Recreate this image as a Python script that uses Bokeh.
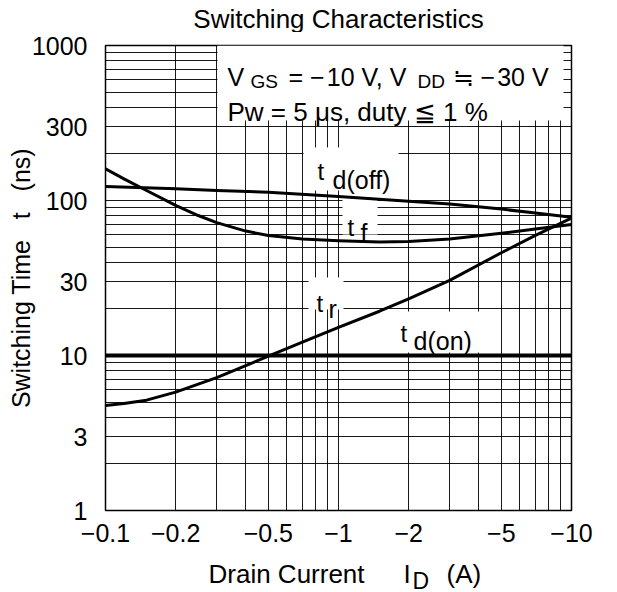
from bokeh.plotting import figure
from bokeh.layouts import column
from bokeh.models import FixedTicker, CustomJSTickFormatter, Label, Range1d
from bokeh.embed import file_html
from bokeh.resources import INLINE

# ---- data ----
x_tdoff = [0.1, 0.2, 0.3, 0.5, 1.0, 2.0, 3.0, 5.0, 7.0, 10.0]
y_tdoff = [123, 119, 116, 113, 106, 99, 95, 88, 83, 78]

x_tf = [0.1, 0.12, 0.15, 0.2, 0.25, 0.3, 0.4, 0.5, 0.7, 1.0, 1.5, 2.0, 3.0, 5.0, 7.0, 10.0]
y_tf = [160, 138, 116, 93, 80, 72, 63.5, 59.5, 56.5, 55, 54, 54.3, 56.5, 61.5, 65.5, 70]

x_tr = [0.1, 0.12, 0.15, 0.2, 0.3, 0.4, 0.5, 0.7, 1.0, 1.5, 2.0, 3.0, 5.0, 7.0, 10.0]
y_tr = [4.75, 4.9, 5.15, 5.8, 7.2, 8.6, 9.9, 12.2, 15.2, 19.3, 23.2, 30.5, 46, 59.5, 77]

x_tdon = [0.1, 10.0]
y_tdon = [10, 10]

x_ticks = [0.1, 0.2, 0.5, 1, 2, 5, 10]
y_ticks = [1, 3, 10, 30, 100, 300, 1000]
x_grid = [m * d for d in (0.1, 1.0) for m in range(1, 10)] + [10.0]
y_grid = [m * d for d in (1, 10, 100) for m in range(1, 10)] + [1000]

FONT = "Liberation Sans"
W = 617
TOP_H = 32          # title strip
BOT_H = 37          # x-axis title strip
MAIN_H = 592 - TOP_H - BOT_H
SHIFT = 9           # observed vertical offset of labels inside the strips

# frame geometry (global pixels) used to place annotations
FL, FR, FT, FB = 105, 571, 45, 510


def px2x(px):
    return 10 ** (-1 + 2 * (px - FL) / (FR - FL))


def px2y(py):
    return 10 ** (3 - 3 * (py - FT) / (FB - FT))


def strip(h):
    f = figure(width=W, height=h, x_range=Range1d(FL, FR), y_range=Range1d(0, h),
               x_axis_location=None, y_axis_location=None, title_location=None,
               output_backend="svg", toolbar_location=None,
               min_border_left=FL, min_border_right=W - FR,
               min_border_top=0, min_border_bottom=0)
    f.grid.visible = False
    f.outline_line_color = None
    f.background_fill_color = "white"
    f.border_fill_color = "white"
    return f


def put(fig, s, x, y, size, align="left"):
    fig.add_layout(Label(x=x, y=y, text=s, text_font=FONT,
                         text_font_size=f"{size}px", text_color="black",
                         text_align=align, text_baseline="alphabetic"))


# ---- title strip ----
top = strip(TOP_H)
put(top, "Switching Characteristics", 338, TOP_H - 27 + SHIFT, 26, "center")

# ---- main chart ----
p = figure(width=W, height=MAIN_H, x_axis_type="log", y_axis_type="log",
           x_range=(0.1, 10), y_range=(1, 1000), title_location=None,
           output_backend="svg", toolbar_location=None,
           min_border_left=FL, min_border_right=W - FR,
           min_border_top=FT - TOP_H, min_border_bottom=MAIN_H - (FB - TOP_H))
p.background_fill_color = "white"
p.border_fill_color = "white"
p.outline_line_color = "black"
p.outline_line_width = 1.5

p.xgrid.ticker = FixedTicker(ticks=x_grid)
p.ygrid.ticker = FixedTicker(ticks=y_grid)
for g in (p.xgrid, p.ygrid):
    g.grid_line_color = "black"
    g.grid_line_width = 1
    g.grid_line_alpha = 0.9

p.xaxis.ticker = FixedTicker(ticks=x_ticks, minor_ticks=[])
p.yaxis.ticker = FixedTicker(ticks=y_ticks, minor_ticks=[])
p.xaxis.formatter = CustomJSTickFormatter(code='return "\\u2212" + tick;')
p.yaxis.formatter = CustomJSTickFormatter(code='return tick.toString();')
for ax in (p.xaxis, p.yaxis):
    ax.axis_line_color = None
    ax.major_tick_line_color = None
    ax.minor_tick_line_color = None
    ax.major_label_text_font = FONT
    ax.major_label_text_font_size = "25px"
    ax.major_label_text_color = "black"
p.xaxis.major_label_standoff = 7
p.yaxis.major_label_standoff = 12
p.yaxis.axis_label = "Switching Time\u00a0\u00a0\u00a0t\u00a0\u00a0\u00a0(ns)"
p.yaxis.axis_label_text_font = FONT
p.yaxis.axis_label_text_font_size = "25px"
p.yaxis.axis_label_text_font_style = "normal"
p.yaxis.axis_label_text_color = "black"
p.yaxis.axis_label_standoff = -6

# white label boxes (cover the grid)
boxes = [(217, 563, 45, 120), (303, 398, 147, 190), (342, 377, 198, 234),
         (308, 343, 277, 309), (397, 480, 311, 352)]
p.quad(left=[px2x(b[0]) for b in boxes], right=[px2x(b[1]) for b in boxes],
       top=[px2y(b[2]) for b in boxes], bottom=[px2y(b[3]) for b in boxes],
       fill_color="white", line_color=None)

# curves
for xs, ys, lw in ((x_tdoff, y_tdoff, 3), (x_tf, y_tf, 3), (x_tr, y_tr, 3), (x_tdon, y_tdon, 4)):
    p.line(xs, ys, line_color="black", line_width=lw, line_join="round")


def txt(s, px, py, size):
    put(p, s, px2x(px), px2y(py), size)


# condition text
txt("V", 227, 76, 25)
txt("GS", 250, 81, 19)
txt("=\u00a0\u2212\u200a10\u00a0V,\u00a0V", 288, 76, 25)
txt("DD", 417, 81, 19)
txt("\u2252\u00a0\u2212\u200a30\u00a0V", 452, 76, 25)
txt("Pw\u00a0=\u00a05\u00a0\u03bcs,\u00a0duty\u00a0\u2266\u00a01\u00a0%", 227, 111, 26)

# curve labels
txt("t", 317, 171, 24)
txt("d(off)", 332, 179, 25)
txt("t", 347, 227, 24)
txt("f", 360, 232, 25)
txt("t", 316, 303, 24)
txt("r", 328, 308, 25)
txt("t", 400, 333, 24)
txt("d(on)", 413, 340, 25)

# ---- x-axis title strip ----
bot = strip(BOT_H)
y0 = 592 - BOT_H
put(bot, "Drain Current", 208, BOT_H - (582 - y0) + SHIFT, 26)
put(bot, "I", 403, BOT_H - (582 - y0) + SHIFT, 26)
put(bot, "(A)", 446, BOT_H - (582 - y0) + SHIFT, 26)
put(bot, "D", 412, BOT_H - (589 - y0) + SHIFT, 23)

layout = column(top, p, bot, spacing=0)
open("out.html", "w").write(file_html(layout, INLINE))
